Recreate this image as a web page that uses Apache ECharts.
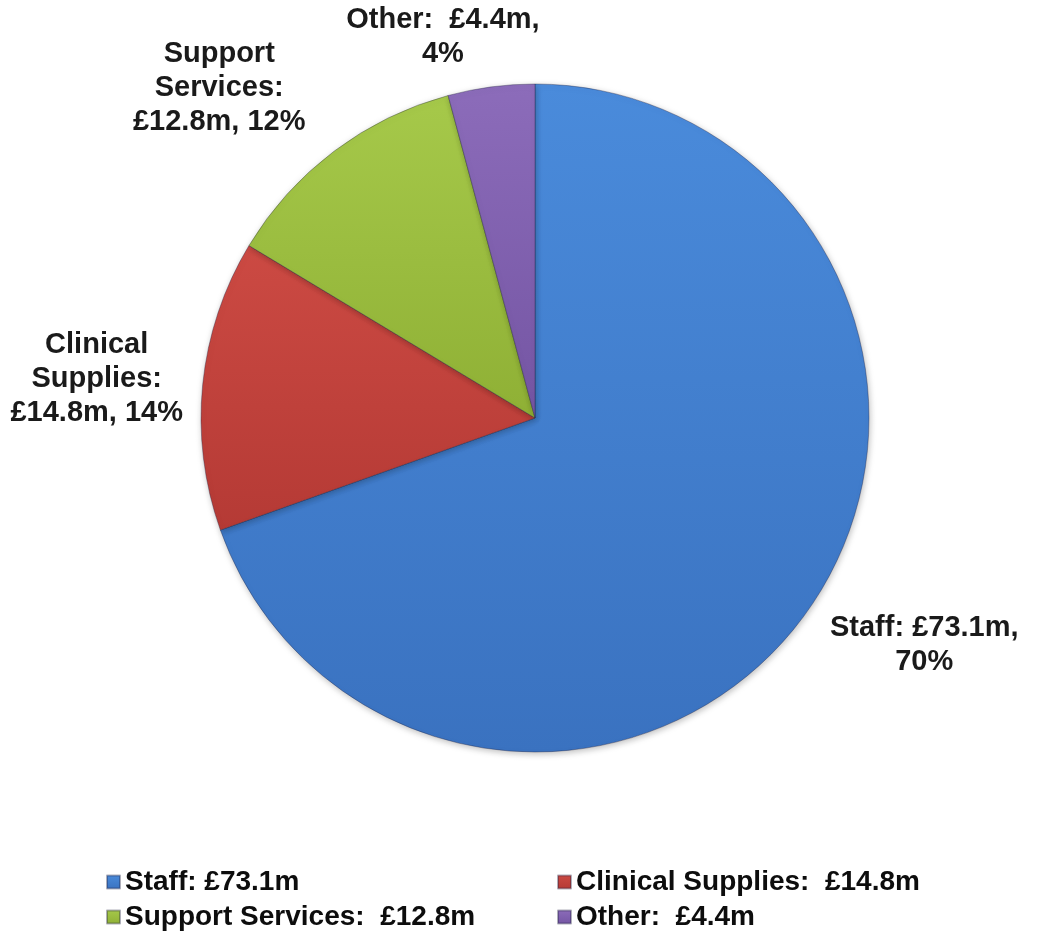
<!DOCTYPE html>
<html>
<head>
<meta charset="utf-8">
<script src="https://cdn.jsdelivr.net/npm/echarts@6/dist/echarts.min.js"></script>
<style>
html,body{margin:0;padding:0;background:#fff;}
#chart{width:1058px;height:933px;}
</style>
</head>
<body>
<div id="chart"></div>
<script>
// Data
const categories = ['Staff', 'Clinical Supplies', 'Support Services', 'Other'];
const values = [73.1, 14.8, 12.8, 4.4];
const labelTemplates = [
  'Staff: £{v}m,\n{p}%',
  'Clinical\nSupplies:\n£{v}m, {p}%',
  'Support\nServices:\n£{v}m, {p}%',
  'Other:  £{v}m,\n{p}%'
];
const legendTemplates = [
  'Staff: £{v}m',
  'Clinical Supplies:  £{v}m',
  'Support Services:  £{v}m',
  'Other:  £{v}m'
];

// Styles
const colors = [
  ['#4a8bdb', '#3a72c0'],
  ['#cc4a43', '#b53a35'],
  ['#a6c94a', '#8fb035'],
  ['#8c6cba', '#7455a3']
];
// per-slice label line geometry (label placement only)
const labelGeom = [
  {length: 60, length2: -32},
  {length: 55, length2: -40},
  {length: 79, length2: -24},
  {length: 50, length2: -60}
];

const FONT = '"Liberation Sans", Arial, Helvetica, sans-serif';

const chart = echarts.init(document.getElementById('chart'), null, {renderer: 'canvas'});

const seriesData = categories.map((name, i) => ({
  name: name,
  value: values[i],
  itemStyle: {
    color: new echarts.graphic.LinearGradient(0, 0, 0, 1, [
      {offset: 0, color: colors[i][0]},
      {offset: 1, color: colors[i][1]}
    ])
  },
  labelLine: {show: false, length: labelGeom[i].length, length2: labelGeom[i].length2}
}));

chart.setOption({
  animation: false,
  backgroundColor: '#ffffff',
  color: colors.map(c => c[0]),
  legend: {
    left: 106,
    top: 868,
    width: 920,
    padding: 0,
    orient: 'horizontal',
    itemWidth: 13,
    itemHeight: 13,
    itemGap: 7,
    icon: 'rect',
    selectedMode: false,
    formatter: function (name) {
      const i = categories.indexOf(name);
      return '{t|' + legendTemplates[i].replace('{v}', values[i].toFixed(1)) + '}';
    },
    textStyle: {
      rich: {
        t: {
          width: 425,
          fontFamily: FONT,
          fontWeight: 'bold',
          fontSize: 28,
          lineHeight: 30,
          color: '#0d0d0d'
        }
      }
    }
  },
  series: [{
    type: 'pie',
    center: [535, 418],
    radius: 334,
    startAngle: 90,
    clockwise: true,
    avoidLabelOverlap: false,
    percentPrecision: 0,
    silent: true,
    itemStyle: {
      borderColor: 'rgba(30,30,60,0.35)',
      borderWidth: 1,
      shadowBlur: 6,
      shadowColor: 'rgba(0,0,0,0.25)',
      shadowOffsetX: 1,
      shadowOffsetY: 2
    },
    label: {
      show: true,
      position: 'outside',
      distanceToLabelLine: 5,
      formatter: function (p) {
        const i = p.dataIndex;
        const txt = labelTemplates[i]
          .replace('{v}', values[i].toFixed(1))
          .replace('{p}', Math.round(p.percent));
        return txt.split('\n').map(l => '{c|' + l + '}').join('\n');
      },
      rich: {
        c: {
          align: 'center',
          fontFamily: FONT,
          fontWeight: 'bold',
          fontSize: 29,
          lineHeight: 34,
          color: '#1a1a1a'
        }
      }
    },
    emphasis: {disabled: true},
    data: seriesData
  }]
});
</script>
</body>
</html>
